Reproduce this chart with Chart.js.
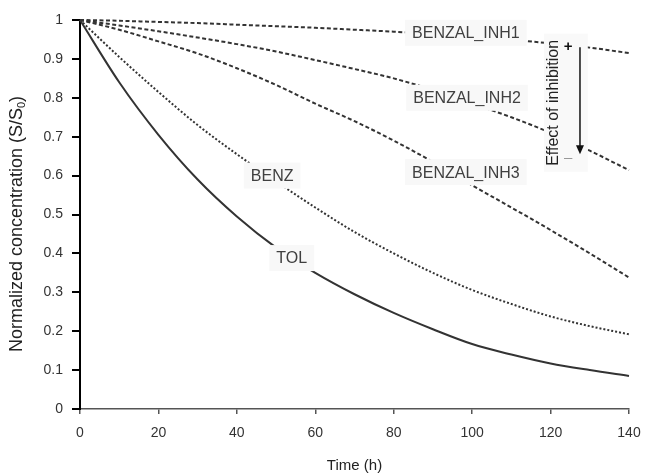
<!DOCTYPE html>
<html>
<head>
<meta charset="utf-8">
<script src="https://cdn.jsdelivr.net/npm/chart.js@4.4.1/dist/chart.umd.min.js"></script>
<style>
    html, body { margin: 0; padding: 0; background: #fff; }
    #wrap { width: 649px; height: 475px; }
</style>
</head>
<body>
<div id="wrap"><canvas id="chart"></canvas></div>
<script>
// Data (time in h, normalized concentration S/S0)
const times = [0, 10, 20, 30, 40, 50, 60, 70, 80, 90, 100, 110, 120, 130, 140];
const tol    = [1, 0.84, 0.705, 0.59, 0.495, 0.415, 0.35, 0.295, 0.247, 0.205, 0.167, 0.14, 0.117, 0.10, 0.085];
const benz   = [1, 0.905, 0.815, 0.73, 0.655, 0.585, 0.518, 0.455, 0.40, 0.35, 0.306, 0.27, 0.238, 0.213, 0.192];
const inh1   = [1, 0.998, 0.995, 0.992, 0.988, 0.984, 0.98, 0.975, 0.97, 0.964, 0.957, 0.949, 0.94, 0.929, 0.915];
const inh2   = [1, 0.986, 0.971, 0.955, 0.938, 0.919, 0.897, 0.874, 0.85, 0.82, 0.785, 0.75, 0.71, 0.664, 0.614];
const inh3   = [1, 0.975, 0.945, 0.914, 0.876, 0.833, 0.785, 0.74, 0.69, 0.635, 0.575, 0.518, 0.46, 0.4, 0.338];

const xTicks = [0, 20, 40, 60, 80, 100, 120, 140];
const yTicks = [0, 0.1, 0.2, 0.3, 0.4, 0.5, 0.6, 0.7, 0.8, 0.9, 1];

const FONT = "'Liberation Sans', Arial, sans-serif";
const INK = '#333333';

// Curve labels, placed in data coordinates
const curveLabels = [
    { text: 'BENZAL_INH1', t: 98.4, v: 0.967 },
    { text: 'BENZAL_INH2', t: 98.7, v: 0.80 },
    { text: 'BENZAL_INH3', t: 98.4, v: 0.609 },
    { text: 'BENZ', t: 49, v: 0.60 },
    { text: 'TOL', t: 54, v: 0.388 }
];

function toPoints(values) {
    return times.map((t, i) => ({ x: t, y: values[i] }));
}

function lineSet(label, values, dash) {
    return {
        label: label,
        data: toPoints(values),
        borderColor: INK,
        borderWidth: 2,
        borderDash: dash,
        pointRadius: 0,
        fill: false,
        cubicInterpolationMode: 'monotone',
        clip: false
    };
}

// Labels, inhibition arrow and the y title with its subscript
const annotations = {
    id: 'annotations',
    afterDatasetsDraw(chart) {
        const ctx = chart.ctx;
        const xs = chart.scales.x, ys = chart.scales.y;
        const px = t => xs.getPixelForValue(t);
        const py = v => ys.getPixelForValue(v);
        ctx.save();

        // boxed curve labels
        ctx.font = '16px ' + FONT;
        ctx.textAlign = 'center';
        ctx.textBaseline = 'middle';
        curveLabels.forEach(l => {
            const w = ctx.measureText(l.text).width + 14;
            const x = px(l.t), y = py(l.v);
            ctx.fillStyle = '#f8f8f8';
            ctx.fillRect(x - w / 2, y - 13, w, 26);
            ctx.fillStyle = '#404040';
            ctx.fillText(l.text, x, y + 1);
        });

        // effect of inhibition box
        const bx0 = px(118.3), bx1 = px(129.5), by0 = py(0.965), by1 = py(0.61);
        ctx.fillStyle = '#f9f9f9';
        ctx.fillRect(bx0, by0, bx1 - bx0, by1 - by0);

        ctx.save();
        ctx.translate(px(120.6), py(0.787));
        ctx.rotate(-Math.PI / 2);
        ctx.font = '16px ' + FONT;
        ctx.fillStyle = '#222';
        ctx.fillText('Effect of inhibition', 0, 1);
        ctx.restore();

        ctx.font = 'bold 15px ' + FONT;
        ctx.fillStyle = '#111';
        ctx.fillText('+', px(124.5), py(0.931));
        ctx.font = '15px ' + FONT;
        ctx.fillStyle = '#999';
        ctx.fillText('\u2013', px(124.5), py(0.645));

        const ax = px(127.5), ay0 = py(0.93), ay1 = py(0.655);
        ctx.strokeStyle = '#111';
        ctx.lineWidth = 1.5;
        ctx.beginPath();
        ctx.moveTo(ax, ay0);
        ctx.lineTo(ax, ay1 - 8);
        ctx.stroke();
        ctx.fillStyle = '#111';
        ctx.beginPath();
        ctx.moveTo(ax - 4, ay1 - 9);
        ctx.lineTo(ax + 4, ay1 - 9);
        ctx.lineTo(ax, ay1);
        ctx.closePath();
        ctx.fill();

        // y axis title with subscript
        ctx.save();
        ctx.translate(17, 224);
        ctx.rotate(-Math.PI / 2);
        ctx.fillStyle = '#222';
        ctx.textAlign = 'left';
        ctx.textBaseline = 'middle';
        const big = '18px ' + FONT, small = '11px ' + FONT;
        const mainText = 'Normalized concentration (S/S';
        ctx.font = big;
        const w1 = ctx.measureText(mainText).width;
        const w3 = ctx.measureText(')').width;
        ctx.font = small;
        const w2 = ctx.measureText('0').width;
        let x = -(w1 + w2 + w3) / 2;
        ctx.font = big;
        ctx.fillText(mainText, x, 0);
        x += w1;
        ctx.font = small;
        ctx.fillText('0', x, 5);
        x += w2;
        ctx.font = big;
        ctx.fillText(')', x, 0);
        ctx.restore();

        ctx.restore();
    }
};

const ctx = document.getElementById('chart').getContext('2d');

new Chart(ctx, {
    type: 'line',
    data: {
        datasets: [
            lineSet('TOL', tol, []),
            lineSet('BENZ', benz, [2, 2]),
            lineSet('BENZAL_INH1', inh1, [4, 2.5]),
            lineSet('BENZAL_INH2', inh2, [4, 2.5]),
            lineSet('BENZAL_INH3', inh3, [4, 2.5])
        ]
    },
    options: {
        responsive: true,
        maintainAspectRatio: false,
        animation: false,
        layout: { padding: { top: 20, right: 20, left: 0, bottom: 0 } },
        plugins: {
            legend: { display: false },
            tooltip: { enabled: false }
        },
        scales: {
            x: {
                type: 'linear',
                min: 0,
                max: 140,
                afterBuildTicks: s => { s.ticks = xTicks.map(v => ({ value: v })); },
                afterFit: s => { s.height = 66; s.paddingLeft = 0; s.paddingRight = 0; },
                border: { color: '#555', width: 1.5 },
                grid: { drawOnChartArea: false, drawTicks: true, tickLength: 5, color: '#555', lineWidth: 1.5 },
                ticks: { color: INK, padding: 11, font: { family: FONT, size: 14 }, maxRotation: 0 },
                title: {
                    display: true,
                    text: 'Time (h)',
                    color: '#222',
                    font: { family: FONT, size: 15 },
                    padding: { top: 4, bottom: 0 }
                }
            },
            y: {
                min: 0,
                max: 1,
                afterBuildTicks: s => { s.ticks = yTicks.map(v => ({ value: v })); },
                afterFit: s => { s.width = 80; s.paddingTop = 0; s.paddingBottom = 0; },
                border: { color: '#000', width: 2 },
                grid: { drawOnChartArea: false, drawTicks: true, tickLength: 8, color: '#000', lineWidth: 2 },
                ticks: {
                    color: INK,
                    padding: 9,
                    font: { family: FONT, size: 14 },
                    callback: v => String(Number(v.toFixed(1)))
                }
            }
        }
    },
    plugins: [annotations]
});
</script>
</body>
</html>
